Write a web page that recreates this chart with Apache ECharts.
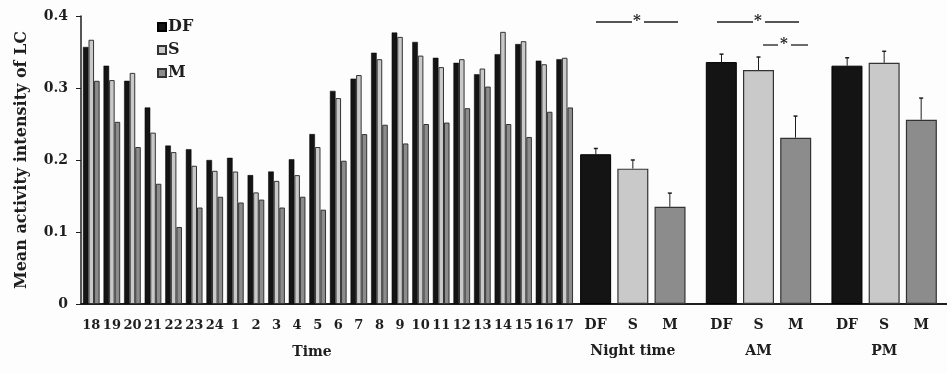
<!DOCTYPE html>
<html>
<head>
<meta charset="utf-8">
<script src="https://cdn.jsdelivr.net/npm/echarts@6/dist/echarts.min.js"></script>
<style>
  html, body { margin: 0; padding: 0; background: #fdfdfd; }
  #chart { width: 947px; height: 373px; }
</style>
</head>
<body>
<div id="chart"></div>
<script>
// hourly means
const hours = ['18', '19', '20', '21', '22', '23', '24', '1', '2', '3', '4', '5',
  '6', '7', '8', '9', '10', '11', '12', '13', '14', '15', '16', '17'];
const hourDF = [0.357, 0.331, 0.310, 0.273, 0.220, 0.215, 0.200, 0.203, 0.179, 0.184, 0.201, 0.236,
  0.296, 0.313, 0.349, 0.377, 0.364, 0.342, 0.335, 0.319, 0.347, 0.361, 0.338, 0.340];
const hourS = [0.367, 0.311, 0.321, 0.238, 0.211, 0.192, 0.185, 0.184, 0.155, 0.171, 0.179, 0.218,
  0.286, 0.318, 0.340, 0.371, 0.345, 0.329, 0.340, 0.327, 0.378, 0.365, 0.333, 0.342];
const hourM = [0.310, 0.253, 0.218, 0.167, 0.107, 0.134, 0.149, 0.141, 0.145, 0.134, 0.149, 0.131,
  0.199, 0.236, 0.249, 0.223, 0.250, 0.252, 0.272, 0.302, 0.250, 0.232, 0.267, 0.273];

// period means + SE
const periods = ['Night time', 'AM', 'PM'];
const periodDF = [0.208, 0.336, 0.331];
const periodS = [0.188, 0.325, 0.335];
const periodM = [0.135, 0.231, 0.256];
const errDF = [0.008, 0.011, 0.011];
const errS = [0.012, 0.018, 0.016];
const errM = [0.019, 0.030, 0.030];

const FONT = 'DejaVu Serif';
const INK = '#1e1e1e';
const colDF = '#141414';
const colS = '#c9c9c9';
const colM = '#8c8c8c';

const chart = echarts.init(document.getElementById('chart'));

function errSeries(name, vals, errs, offset) {
  return {
    name: name,
    type: 'custom',
    xAxisIndex: 1,
    yAxisIndex: 1,
    silent: true,
    data: vals.map((v, i) => [i, v, errs[i]]),
    renderItem: function (params, api) {
      const base = api.coord([api.value(0), api.value(1)]);
      const top = api.coord([api.value(0), api.value(1) + api.value(2)]);
      const x = base[0] + offset;
      return {
        type: 'group',
        children: [
          { type: 'line', shape: { x1: x, y1: base[1], x2: x, y2: top[1] }, style: { stroke: INK, lineWidth: 1 } },
          { type: 'line', shape: { x1: x - 2, y1: top[1], x2: x + 2, y2: top[1] }, style: { stroke: INK, lineWidth: 1.5 } }
        ]
      };
    }
  };
}

const subLabel = {
  show: true,
  position: 'bottom',
  distance: 14,
  formatter: '{a}',
  fontFamily: FONT,
  fontWeight: 'bold',
  fontSize: 14,
  color: INK
};

const option = {
  backgroundColor: '#fdfdfd',
  animation: false,
  textStyle: { fontFamily: FONT },
  legend: {
    data: ['DF', 'S', 'M'],
    orient: 'vertical',
    left: 152,
    top: 14,
    icon: 'rect',
    itemWidth: 8,
    itemHeight: 8,
    itemGap: 7,
    textStyle: { fontFamily: FONT, fontWeight: 'bold', fontSize: 16, color: INK, padding: [0, 0, 0, -3] }
  },
  grid: [
    { left: 81, top: 16, width: 494, bottom: 69 },
    { left: 570, top: 16, width: 387, bottom: 69 }
  ],
  xAxis: [
    {
      type: 'category', gridIndex: 0, data: hours,
      axisLine: { lineStyle: { color: INK, width: 2 } },
      axisTick: { show: false },
      axisLabel: { interval: 0, margin: 15, fontFamily: FONT, fontWeight: 'bold', fontSize: 13, color: INK },
      name: 'Time', nameLocation: 'middle', nameGap: 41,
      nameTextStyle: { fontFamily: FONT, fontWeight: 'bold', fontSize: 14, color: INK, padding: [0, 32, 0, 0] }
    },
    {
      type: 'category', gridIndex: 1, data: periods,
      axisLine: { lineStyle: { color: INK, width: 2 } },
      axisTick: { show: false },
      axisLabel: { interval: 0, margin: 40, fontFamily: FONT, fontWeight: 'bold', fontSize: 14, color: INK }
    }
  ],
  yAxis: [
    {
      type: 'value', gridIndex: 0, min: 0, max: 0.4, interval: 0.1,
      axisLine: { show: true, lineStyle: { color: INK, width: 1.5 } },
      axisTick: { show: true, length: 5, lineStyle: { color: INK } },
      splitLine: { show: false },
      axisLabel: {
        margin: 13, fontFamily: FONT, fontWeight: 'bold', fontSize: 14, color: INK,
        formatter: v => (v === 0 ? '0' : v.toFixed(1))
      },
      name: 'Mean activity intensity of LC', nameLocation: 'middle', nameGap: 51,
      nameTextStyle: { fontFamily: FONT, fontWeight: 'bold', fontSize: 16, color: INK }
    },
    {
      type: 'value', gridIndex: 1, min: 0, max: 0.4, interval: 0.1,
      show: false
    }
  ],
  series: [
    { name: 'DF', type: 'bar', xAxisIndex: 0, yAxisIndex: 0, data: hourDF, barWidth: '27%', barGap: '0%',
      itemStyle: { color: colDF, borderColor: '#000', borderWidth: 0.5 } },
    { name: 'S', type: 'bar', xAxisIndex: 0, yAxisIndex: 0, data: hourS, barWidth: '27%', barGap: '0%',
      itemStyle: { color: colS, borderColor: '#333', borderWidth: 1 } },
    { name: 'M', type: 'bar', xAxisIndex: 0, yAxisIndex: 0, data: hourM, barWidth: '27%', barGap: '0%',
      itemStyle: { color: colM, borderColor: '#333', borderWidth: 1 } },

    { name: 'DF', type: 'bar', xAxisIndex: 1, yAxisIndex: 1, data: periodDF, barWidth: 31, barGap: '20%',
      itemStyle: { color: colDF, borderColor: '#000', borderWidth: 1 }, label: subLabel },
    { name: 'S', type: 'bar', xAxisIndex: 1, yAxisIndex: 1, data: periodS, barWidth: 31, barGap: '20%',
      itemStyle: { color: colS, borderColor: '#333', borderWidth: 1.2 }, label: subLabel },
    { name: 'M', type: 'bar', xAxisIndex: 1, yAxisIndex: 1, data: periodM, barWidth: 31, barGap: '20%',
      itemStyle: { color: colM, borderColor: '#333', borderWidth: 1.2 }, label: subLabel },

    errSeries('errDF', periodDF, errDF, -37),
    errSeries('errS', periodS, errS, 0),
    errSeries('errM', periodM, errM, 37)
  ],
  graphic: [
    // significance brackets
    { type: 'line', shape: { x1: 596, y1: 22, x2: 632, y2: 22 }, style: { stroke: INK, lineWidth: 1.3 } },
    { type: 'line', shape: { x1: 644, y1: 22, x2: 678, y2: 22 }, style: { stroke: INK, lineWidth: 1.3 } },
    { type: 'text', left: 633, top: 14, style: { text: '*', font: 'bold 15px ' + FONT, fill: INK } },
    { type: 'line', shape: { x1: 717, y1: 22, x2: 753, y2: 22 }, style: { stroke: INK, lineWidth: 1.3 } },
    { type: 'line', shape: { x1: 765, y1: 22, x2: 799, y2: 22 }, style: { stroke: INK, lineWidth: 1.3 } },
    { type: 'text', left: 754, top: 14, style: { text: '*', font: 'bold 15px ' + FONT, fill: INK } },
    { type: 'line', shape: { x1: 763, y1: 45, x2: 778, y2: 45 }, style: { stroke: INK, lineWidth: 1.3 } },
    { type: 'line', shape: { x1: 791, y1: 45, x2: 808, y2: 45 }, style: { stroke: INK, lineWidth: 1.3 } },
    { type: 'text', left: 780, top: 37, style: { text: '*', font: 'bold 15px ' + FONT, fill: INK } }
  ]
};

chart.setOption(option);
</script>
</body>
</html>
